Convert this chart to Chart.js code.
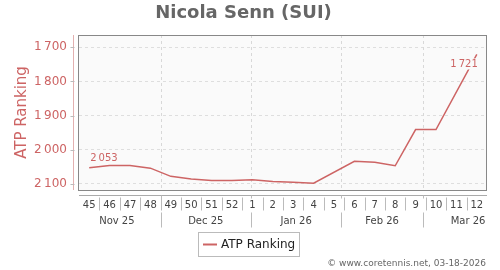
<!DOCTYPE html>
<html>
<head>
<meta charset="utf-8">
<script src="https://cdn.jsdelivr.net/npm/chart.js@4"></script>
<style>
  html,body{margin:0;padding:0;background:#fff;}
  canvas{display:block;}
</style>
</head>
<body>
<canvas id="chart" width="500" height="270"></canvas>
<script>
// ── Data ────────────────────────────────────────────────────────────────────
const weeks    = ["45","46","47","48","49","50","51","52","1","2","3","4","5","6","7","8","9","10","11","12"];
const rankings = [2053,2046,2046,2054,2078,2086,2090,2090,2088,2093,2095,2098,null,2034,2037,2047,1941,1941,null,1721];
const months     = ["Nov 25","Dec 25","Jan 26","Feb 26","Mar 26"];
const monthDates = ["2025-11-01","2025-12-01","2026-01-01","2026-02-01","2026-03-01","2026-04-01"];
const firstWeek  = "2025-11-03";   // monday of week 45
const yTicks     = [1700,1800,1900,2000,2100];

const RED  = "#cd6464";
const FONT = "'DejaVu Sans', sans-serif";

const fmt = v => String(v).replace(/\B(?=(\d{3})+(?!\d))/g, "\u2009");

// date -> fractional category index
function dateIdx(d){
    const days = (new Date(d+"T00:00:00Z") - new Date(firstWeek+"T00:00:00Z"))/86400000;
    return days/7 - 0.5;
}

// ── Decorations ─────────────────────────────────────────────────────────────
const decor = {
    id:"decor",
    beforeDraw(c){
        const a=c.chartArea, ctx=c.ctx;
        ctx.save();
        ctx.fillStyle="#fafafa";
        ctx.fillRect(a.left,a.top,a.right-a.left,a.bottom-a.top);
        ctx.restore();
    },
    beforeDatasetsDraw(c){
        const a=c.chartArea, ctx=c.ctx, x=c.scales.x;
        ctx.save();
        ctx.strokeStyle="#d8d8d8"; ctx.lineWidth=1; ctx.setLineDash([3,3]);
        monthDates.forEach(d=>{
            const px=Math.round(x.getPixelForValue(dateIdx(d)))+.5;
            if(px<=a.left+1||px>=a.right-1) return;
            ctx.beginPath(); ctx.moveTo(px,a.top); ctx.lineTo(px,a.bottom); ctx.stroke();
        });
        ctx.restore();
    },
    afterDatasetsDraw(c){
        const a=c.chartArea, ctx=c.ctx, x=c.scales.x, y=c.scales.y;
        ctx.save();

        // plot border
        ctx.strokeStyle="#888"; ctx.lineWidth=1;
        ctx.strokeRect(a.left-.5,a.top+.5,a.right-a.left,a.bottom-a.top);

        // value labels (first / last)
        ctx.font="10px "+FONT; ctx.fillStyle=RED; ctx.textBaseline="middle";
        const meta=c.getDatasetMeta(0).data;
        const p0=meta[0], pl=meta[rankings.length-1];
        ctx.textAlign="left";
        ctx.fillText(fmt(rankings[0]), p0.x+1, p0.y-9);
        const t=fmt(rankings[rankings.length-1]), w=ctx.measureText(t).width;
        ctx.fillStyle="#fafafa";
        ctx.fillRect(pl.x+1-w-1, pl.y+4, w+2, 11);
        ctx.fillStyle=RED; ctx.textAlign="right";
        ctx.fillText(t, pl.x+1, pl.y+9.5);

        // y axis line + ticks
        ctx.strokeStyle="#e3b0b0";
        const ax=a.left-5.5;
        ctx.beginPath(); ctx.moveTo(ax,a.top); ctx.lineTo(ax,a.bottom); ctx.stroke();
        ctx.strokeStyle="#bbb";
        y.ticks.forEach(tk=>{
            const py=Math.round(y.getPixelForValue(tk.value))+.5;
            ctx.beginPath(); ctx.moveTo(ax-3,py); ctx.lineTo(ax+1,py); ctx.stroke();
        });

        // x axis line
        const bx=a.bottom+5.5;
        ctx.strokeStyle="#aaa";
        ctx.beginPath(); ctx.moveTo(a.left,bx); ctx.lineTo(a.right,bx); ctx.stroke();

        // week separators
        ctx.strokeStyle="#bbb";
        for(let k=1;k<weeks.length;k++){
            const px=Math.round(x.getPixelForValue(k-.5))+.5;
            ctx.beginPath(); ctx.moveTo(px,bx+2); ctx.lineTo(px,bx+15); ctx.stroke();
        }
        // month separators + labels
        monthDates.forEach(d=>{
            const px=Math.round(x.getPixelForValue(dateIdx(d)))+.5;
            if(px<=a.left+1||px>=a.right-1) return;
            ctx.beginPath(); ctx.moveTo(px,bx); ctx.lineTo(px,bx+3); ctx.stroke();
            ctx.beginPath(); ctx.moveTo(px,bx+17); ctx.lineTo(px,bx+32); ctx.stroke();
        });
        ctx.fillStyle="#444"; ctx.font="10px "+FONT; ctx.textAlign="center"; ctx.textBaseline="middle";
        months.forEach((m,i)=>{
            const c0=dateIdx(monthDates[i]), c1=dateIdx(monthDates[i+1]);
            ctx.fillText(m, x.getPixelForValue((c0+c1)/2), bx+26);
        });

        // legend
        ctx.strokeStyle="#bbb"; ctx.lineWidth=1;
        ctx.strokeRect(198.5,232.5,101,24);
        ctx.strokeStyle=RED; ctx.lineWidth=2;
        ctx.beginPath(); ctx.moveTo(203,244.5); ctx.lineTo(217,244.5); ctx.stroke();
        ctx.fillStyle="#222"; ctx.font="12px "+FONT; ctx.textAlign="left";
        ctx.fillText("ATP Ranking", 221, 244.5);

        // credit
        ctx.fillStyle="#666"; ctx.font="9px "+FONT; ctx.textAlign="right";
        ctx.fillText("\u00a9 www.coretennis.net, 03-18-2026", 486, 264);
        ctx.restore();
    }
};

// ── Chart ───────────────────────────────────────────────────────────────────
new Chart(document.getElementById("chart"),{
    type:"line",
    data:{labels:weeks,datasets:[{label:"ATP Ranking",data:rankings,borderColor:RED,
        borderWidth:1.5,pointRadius:0,tension:0,spanGaps:true,fill:false}]},
    options:{responsive:false,animation:false,devicePixelRatio:1,
        layout:{padding:{left:0,right:13,top:0,bottom:0}},
        plugins:{legend:{display:false},tooltip:{enabled:false},
            title:{display:true,text:"Nicola Senn (SUI)",color:"#666",
                font:{family:FONT,size:18,weight:"bold"},padding:{top:3,bottom:10.4}}},
        scales:{
            x:{offset:true,grid:{display:false,drawTicks:false},border:{display:false},
               ticks:{font:{family:FONT,size:10},color:"#444",padding:9,autoSkip:false,maxRotation:0},
               afterFit:s=>{s.height=80;}},
            y:{reverse:true,min:1664,max:2118,
               afterBuildTicks:s=>{s.ticks=yTicks.map(v=>({value:v}));},
               ticks:{font:{family:FONT,size:12},color:RED,padding:12,callback:v=>fmt(v)},
               grid:{color:"#dedede",drawTicks:false},border:{display:false,dash:[3,3]},
               title:{display:true,text:"ATP Ranking",color:RED,font:{family:FONT,size:15},padding:{top:13,bottom:0}},
               afterFit:s=>{s.width=79;}}
        }},
    plugins:[decor]
});
</script>
</body>
</html>
